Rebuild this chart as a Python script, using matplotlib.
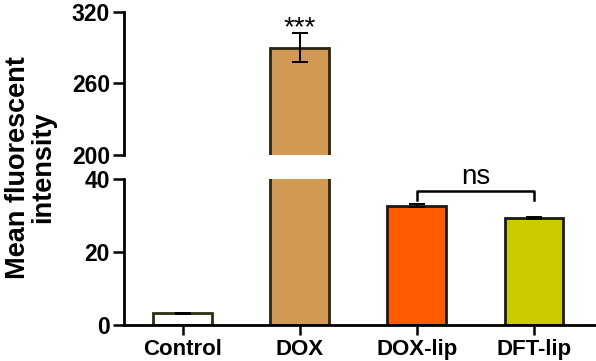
import numpy as np
import matplotlib
matplotlib.use("Agg")
import matplotlib.pyplot as plt

plt.rcParams["font.family"] = ["Liberation Sans", "DejaVu Sans"]

categories = ["Control", "DOX", "DOX-lip", "DFT-lip"]
means = [3.2, 290.0, 32.7, 29.3]
errors = [0.1, 12.0, 0.4, 0.3]
fill_colors = ["#FFFFFF", "#D09A55", "#FF5B00", "#CBCB00"]
edge_colors = ["#2E2E12", "#2A2410", "#1A1A1A", "#1A1A1A"]
upper_ticks = [200, 260, 320]
lower_ticks = [0, 20, 40]

x = np.arange(len(categories))

fig = plt.figure(figsize=(5.96, 3.61), dpi=100)
ax_top = fig.add_axes([0.208, 0.571, 0.79, 0.396])
ax_bot = fig.add_axes([0.208, 0.0997, 0.79, 0.4043])

for ax in (ax_top, ax_bot):
    ax.bar(x, means, width=0.5, color=fill_colors, edgecolor=edge_colors,
           linewidth=2.0, zorder=2)
    ax.errorbar(x, means, yerr=errors, fmt="none", ecolor="black",
                elinewidth=1.4, capsize=5.5, capthick=1.4, zorder=3)
    ax.set_xlim(-0.5, 3.52)
    for s in ("top", "right"):
        ax.spines[s].set_visible(False)
    ax.spines["left"].set_linewidth(2.0)
    ax.spines["bottom"].set_linewidth(2.0)
    ax.tick_params(axis="y", length=8, width=1.8, pad=2, labelsize=16.5)
    ax.tick_params(axis="x", length=7.5, width=1.8, pad=2.5, labelsize=16)

ax_top.set_ylim(200, 320)
ax_top.set_yticks(upper_ticks)
ax_top.spines["bottom"].set_visible(False)
ax_top.tick_params(axis="x", bottom=False, labelbottom=False)
for lab in ax_top.get_yticklabels():
    lab.set_fontweight("bold")

ax_bot.set_ylim(0, 40)
ax_bot.set_yticks(lower_ticks)
ax_bot.set_xticks(x)
ax_bot.set_xticklabels(categories, fontweight="bold")
for lab in ax_bot.get_yticklabels():
    lab.set_fontweight("bold")

# significance marks
ax_top.text(x[1], 306.0, "***", ha="center", va="center", fontsize=20)
ax_bot.plot([x[2], x[2], x[3], x[3]], [34.2, 36.8, 36.8, 34.2], color="black",
            linewidth=1.8, clip_on=False)
ax_bot.text((x[2] + x[3]) / 2, 40.6, "ns", ha="center", va="center",
            fontsize=20, clip_on=False)

fig.text(0.052, 0.536, "Mean fluorescent\nintensity", rotation=90,
         ha="center", va="center", fontsize=19.5, fontweight="bold",
         linespacing=0.95)

fig.savefig("out.png", dpi=100)
